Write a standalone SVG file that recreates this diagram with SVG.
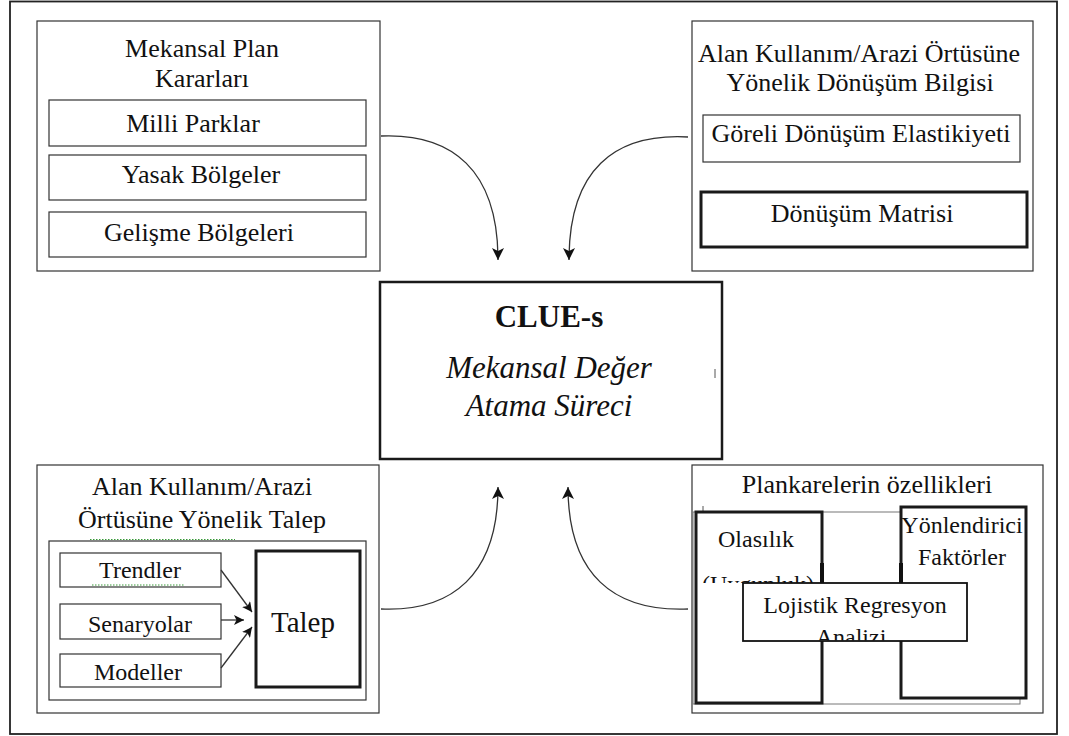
<svg xmlns="http://www.w3.org/2000/svg" width="1069" height="736" viewBox="0 0 1069 736" font-family="'Liberation Serif', 'Times New Roman', serif">
  <style>
    text { font-family: "Liberation Serif", "Times New Roman", serif; fill: #111; text-anchor: middle; }
    .t26 { font-size: 26px; }
    .t24 { font-size: 24px; }
    .box { fill: #fff; stroke: #333; stroke-width: 1.2; }
    .thick { fill: #fff; stroke: #1a1a1a; stroke-width: 3; }
    .thin { fill: none; stroke: #777; stroke-width: 1; }
    .conn { fill: none; stroke: #333; stroke-width: 1.3; }
    .spell { fill: none; stroke: #3a9a3a; stroke-width: 1; stroke-dasharray: 1.5 1.5; }
  </style>
  <defs>
    <marker id="head" viewBox="0 0 12 12" refX="12" refY="6" markerWidth="12" markerHeight="12" markerUnits="userSpaceOnUse" orient="auto">
      <path d="M0,0 L12,6 L0,12 L3,6 Z" fill="#111"/>
    </marker>
    <marker id="headSm" viewBox="0 0 10 10" refX="10" refY="5" markerWidth="10" markerHeight="10" markerUnits="userSpaceOnUse" orient="auto">
      <path d="M0,0 L10,5 L0,10 L2.5,5 Z" fill="#111"/>
    </marker>
    <clipPath id="clipUyg"><rect x="690" y="560" width="140" height="23"/></clipPath>
    <clipPath id="clipLoj"><rect x="743" y="583" width="224" height="57.5"/></clipPath>
  </defs>

  <!-- outer frame -->
  <rect x="10" y="1.5" width="1047" height="732.5" fill="#fff" stroke="#222" stroke-width="1.8"/>

  <!-- spatial plan decisions -->
  <g id="plan-kararlari">
    <rect class="box" x="37" y="21" width="343" height="250" stroke-width="1.5"/>
    <text class="t26" x="202" y="57">Mekansal Plan</text>
    <text class="t26" x="202" y="87">Kararları</text>
    <rect class="box" x="49" y="100" width="317" height="46" stroke-width="1.8"/>
    <text class="t26" x="193" y="132">Milli Parklar</text>
    <rect class="box" x="49" y="155" width="317" height="45"/>
    <text class="t26" x="201" y="183">Yasak Bölgeler</text>
    <rect class="box" x="49" y="212" width="317" height="45"/>
    <text class="t26" x="199" y="241">Gelişme Bölgeleri</text>
  </g>

  <!-- conversion information -->
  <g id="donusum-bilgisi">
    <rect class="box" x="692" y="21" width="341" height="250"/>
    <text class="t26" x="859" y="62">Alan Kullanım/Arazi Örtüsüne</text>
    <text class="t26" x="860" y="91">Yönelik Dönüşüm Bilgisi</text>
    <rect class="box" x="703" y="115" width="317" height="47" stroke-width="1.5"/>
    <text class="t26" x="861" y="142">Göreli Dönüşüm Elastikiyeti</text>
    <rect class="thick" x="701" y="192" width="326" height="55"/>
    <text class="t26" x="862" y="222">Dönüşüm Matrisi</text>
  </g>

  <!-- central model -->
  <g id="clue-s">
    <rect x="380" y="282" width="342" height="177" fill="#fff" stroke="#1a1a1a" stroke-width="2.5"/>
    <text x="549" y="327" font-size="31" font-weight="bold">CLUE-s</text>
    <text x="549" y="378" font-size="31" font-style="italic">Mekansal Değer</text>
    <text x="549" y="416" font-size="31" font-style="italic">Atama Süreci</text>
    <path d="M715,369 V378" stroke="#555" stroke-width="1" fill="none"/>
  </g>

  <!-- land use demand -->
  <g id="talep-blogu">
    <rect class="box" x="37" y="465" width="342" height="248" stroke-width="1.5"/>
    <text class="t26" x="202" y="495">Alan Kullanım/Arazi</text>
    <text class="t26" x="202" y="528">Örtüsüne Yönelik Talep</text>
    <rect class="box" x="49" y="541" width="317" height="159" stroke="#555"/>
    <path class="spell" d="M90,539.5 H235"/>
    <g id="trendler">
      <rect class="box" x="60" y="553" width="161" height="34" stroke="#444"/>
      <text class="t24" x="140" y="578">Trendler</text>
      <path class="spell" d="M92,585 H185"/>
    </g>
    <g id="senaryolar">
      <rect class="box" x="60" y="604" width="161" height="35" stroke="#444"/>
      <text class="t24" x="140" y="632">Senaryolar</text>
    </g>
    <g id="modeller">
      <rect class="box" x="60" y="654" width="161" height="33" stroke="#444"/>
      <text class="t24" x="138" y="680">Modeller</text>
    </g>
    <g id="talep">
      <rect class="thick" x="256" y="551" width="104" height="136"/>
      <text x="303" y="632" font-size="29">Talep</text>
    </g>
    <g id="talep-oklari">
      <path class="conn" d="M221,570 L252,612" marker-end="url(#headSm)"/>
      <path class="conn" d="M221,620 L244,620" marker-end="url(#headSm)"/>
      <path class="conn" d="M221,668 L252,627" marker-end="url(#headSm)"/>
    </g>
  </g>

  <!-- grid cell properties -->
  <g id="plankareler">
    <rect class="box" x="692" y="465" width="351" height="248"/>
    <text class="t26" x="867" y="493">Plankarelerin özellikleri</text>
    <rect class="thin" x="693" y="512" width="327" height="192"/>
    <path d="M703,506 V512" stroke="#555" stroke-width="1"/>
    <g id="olasilik">
      <rect class="thick" x="696" y="512" width="126" height="191"/>
      <text class="t24" x="756" y="547">Olasılık</text>
      <text class="t24" x="758" y="592" clip-path="url(#clipUyg)">(Uygunluk)</text>
      <path d="M822,563 V583" stroke="#111" stroke-width="4"/>
    </g>
    <g id="yonlendirici">
      <rect class="thick" x="901" y="507" width="125" height="191"/>
      <text class="t24" x="962" y="533">Yönlendirici</text>
      <text class="t24" x="962" y="565">Faktörler</text>
      <path d="M901,563 V583" stroke="#111" stroke-width="4"/>
    </g>
    <g id="lojistik">
      <rect x="743" y="583" width="224" height="58" fill="#fff" stroke="#111" stroke-width="1.8"/>
      <g clip-path="url(#clipLoj)">
        <text class="t24" x="855" y="613">Lojistik Regresyon</text>
        <text class="t24" x="851" y="645">Analizi</text>
      </g>
    </g>
  </g>

  <!-- curved connectors into the model -->
  <g id="connectors">
    <path class="conn" d="M381,136 C452,133 498,170 498,260" marker-end="url(#head)"/>
    <path class="conn" d="M688,137 C614,133 569,170 569,260" marker-end="url(#head)"/>
    <path class="conn" d="M381,609 C452,612 498,575 498,487" marker-end="url(#head)"/>
    <path class="conn" d="M688,609 C614,612 568,575 568,487" marker-end="url(#head)"/>
  </g>
</svg>
